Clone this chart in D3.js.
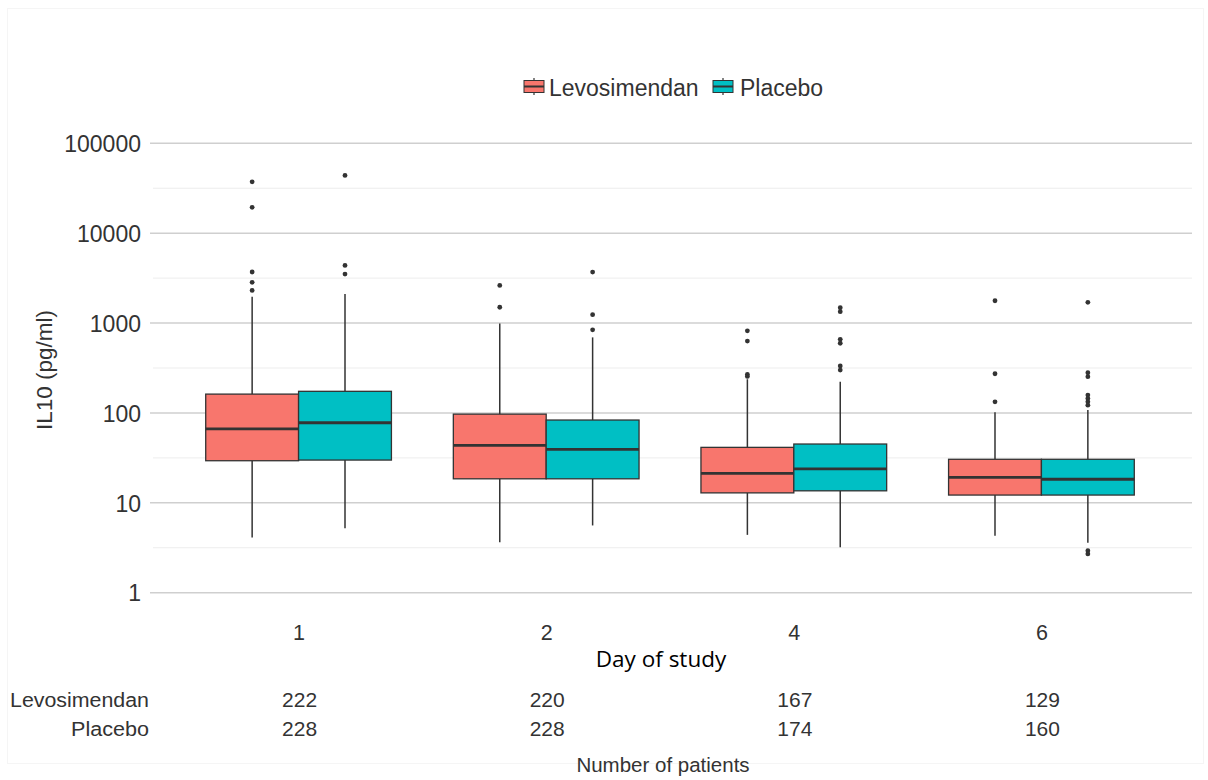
<!DOCTYPE html>
<html>
<head>
<meta charset="utf-8">
<script src="https://cdn.jsdelivr.net/npm/d3@7"></script>
<style>
  html, body { margin: 0; padding: 0; background: #ffffff; }
  svg { display: block; }
</style>
</head>
<body>
<svg id="chart" width="1208" height="780"></svg>
<script>
// IL-10 concentrations by study day, levosimendan vs placebo (box-and-whisker summaries)
const days = ["1", "2", "4", "6"];
const groups = ["Levosimendan", "Placebo"];
const groupColors = ["#F8766D", "#00BFC4"];

// Levosimendan summaries per day (pg/ml)
const levoLow    = [4.1, 3.65, 4.4, 4.3];
const levoQ1     = [29.4, 18.5, 12.9, 12.2];
const levoMedian = [66.5, 43.5, 21.3, 19.2];
const levoQ3     = [162, 97, 41.4, 30.5];
const levoHigh   = [1960, 990, 237, 102];
const levoOutliers = [
  [37300, 19400, 3700, 2840, 2310],
  [2620, 1500],
  [820, 630, 268, 255],
  [1770, 273, 133]
];

// Placebo summaries per day (pg/ml)
const placLow    = [5.2, 5.6, 3.2, 3.6];
const placQ1     = [29.9, 18.5, 13.6, 12.2];
const placMedian = [77.8, 39.4, 23.9, 18.3];
const placQ3     = [174, 83.4, 45.1, 30.5];
const placHigh   = [2100, 693, 222, 108];
const placOutliers = [
  [43900, 4380, 3510],
  [3690, 1240, 840],
  [1480, 1340, 660, 596, 333, 300],
  [1700, 280, 253, 158, 145, 133, 122, 2.93, 2.7]
];

// Number of patients per day
const levoCounts = [222, 220, 167, 129];
const placCounts = [228, 228, 174, 160];

const yTicks = [1, 10, 100, 1000, 10000, 100000];
const yMinor = [3.1623, 31.623, 316.23, 3162.3, 31623];

// assemble per-box records
const stats = [];
groups.forEach((g, gi) => {
  const src = gi === 0
    ? [levoLow, levoQ1, levoMedian, levoQ3, levoHigh, levoOutliers]
    : [placLow, placQ1, placMedian, placQ3, placHigh, placOutliers];
  days.forEach((d, di) => {
    stats.push({
      day: d, group: g, gi: gi,
      low: src[0][di], q1: src[1][di], median: src[2][di],
      q3: src[3][di], high: src[4][di], outliers: src[5][di]
    });
  });
});

const svg = d3.select("#chart");
const FONT = "'Liberation Sans', Arial, Helvetica, sans-serif";
const ink = "#333333";

const panel = { left: 150, right: 1192 };
const x = d3.scalePoint().domain(days).range([panel.left, 1190]).padding(0.6);
const y = d3.scaleLog().domain([1, 100000]).range([592.7, 143.3]);
const boxW = x.step() * 0.375;
const dodge = d3.scaleBand().domain(groups).range([-boxW, boxW]);

// faint outer frame
svg.append("rect")
  .attr("x", 7.5).attr("y", 8.5).attr("width", 1196).attr("height", 755)
  .attr("fill", "none").attr("stroke", "#f5f5f5").attr("stroke-width", 1);

// grid lines
const grid = svg.append("g");
grid.selectAll("line.minor").data(yMinor).join("line")
  .attr("class", "minor")
  .attr("x1", panel.left + 3).attr("x2", panel.right)
  .attr("y1", d => y(d)).attr("y2", d => y(d))
  .attr("stroke", "#ededed").attr("stroke-width", 1);
grid.selectAll("line.major").data(yTicks).join("line")
  .attr("class", "major")
  .attr("x1", panel.left).attr("x2", panel.right)
  .attr("y1", d => y(d)).attr("y2", d => y(d))
  .attr("stroke", "#cfcfcf").attr("stroke-width", 1.6);

// y axis labels
const yAxis = d3.axisLeft(y).tickValues(yTicks).tickFormat(d3.format("d")).tickSize(0).tickPadding(0);
const yg = svg.append("g").attr("transform", `translate(${panel.left - 9},0)`).call(yAxis);
yg.select(".domain").remove();
yg.selectAll("text")
  .attr("font-family", FONT).attr("font-size", 23).attr("fill", ink)
  .attr("dy", "0.36em");

// y axis title
svg.append("text")
  .attr("transform", "translate(52,370) rotate(-90)")
  .attr("text-anchor", "middle")
  .attr("font-family", FONT).attr("font-size", 22.5).attr("fill", ink)
  .text("IL10 (pg/ml)");

// x axis labels
const xAxis = d3.axisBottom(x).tickSize(0).tickPadding(0);
const xg = svg.append("g").attr("transform", "translate(0,640)").call(xAxis);
xg.select(".domain").remove();
xg.selectAll("text")
  .attr("font-family", FONT).attr("font-size", 21.5).attr("fill", ink)
  .attr("dy", 0).attr("y", 0);

// boxes
const boxes = svg.append("g").selectAll("g.box").data(stats).join("g")
  .attr("class", "box")
  .attr("transform", d => `translate(${x(d.day) + dodge(d.group)},0)`);
const bw = dodge.bandwidth();

boxes.append("line")
  .attr("x1", bw / 2).attr("x2", bw / 2)
  .attr("y1", d => y(d.high)).attr("y2", d => y(d.q3))
  .attr("stroke", ink).attr("stroke-width", 1.5);
boxes.append("line")
  .attr("x1", bw / 2).attr("x2", bw / 2)
  .attr("y1", d => y(d.q1)).attr("y2", d => y(d.low))
  .attr("stroke", ink).attr("stroke-width", 1.5);
boxes.append("rect")
  .attr("x", 0).attr("width", bw)
  .attr("y", d => y(d.q3)).attr("height", d => y(d.q1) - y(d.q3))
  .attr("fill", d => groupColors[d.gi])
  .attr("stroke", ink).attr("stroke-width", 1.3);
boxes.append("line")
  .attr("x1", 0).attr("x2", bw)
  .attr("y1", d => y(d.median)).attr("y2", d => y(d.median))
  .attr("stroke", ink).attr("stroke-width", 2.8);
boxes.selectAll("circle").data(d => d.outliers).join("circle")
  .attr("cx", bw / 2).attr("cy", v => y(v)).attr("r", 2.4)
  .attr("fill", ink);

// legend
const legend = svg.append("g");
const legendItems = [
  { name: groups[0], color: groupColors[0], kx: 523, tx: 549 },
  { name: groups[1], color: groupColors[1], kx: 712, tx: 740 }
];
legendItems.forEach(it => {
  const k = legend.append("g").attr("transform", `translate(${it.kx},78)`);
  k.append("line").attr("x1", 11).attr("x2", 11).attr("y1", 0).attr("y2", 17)
    .attr("stroke", ink).attr("stroke-width", 1.2);
  k.append("rect").attr("x", 1).attr("y", 2.5).attr("width", 20).attr("height", 12)
    .attr("fill", it.color).attr("stroke", ink).attr("stroke-width", 1);
  k.append("line").attr("x1", 1).attr("x2", 21).attr("y1", 8.5).attr("y2", 8.5)
    .attr("stroke", ink).attr("stroke-width", 2);
  legend.append("text")
    .attr("x", it.tx).attr("y", 96)
    .attr("font-family", FONT).attr("font-size", 23).attr("fill", ink)
    .text(it.name);
});

// x axis title
svg.append("text")
  .attr("x", 661).attr("y", 667)
  .attr("text-anchor", "middle")
  .attr("font-family", "'Open Sans', 'Noto Sans', sans-serif").attr("font-size", 22.5)
  .attr("fill", "#000000")
  .text("Day of study");

// patient count table
const table = svg.append("g");
const rowsY = [707, 736];
const rowCounts = [levoCounts, placCounts];
groups.forEach((g, gi) => {
  table.append("text")
    .attr("x", 149).attr("y", rowsY[gi])
    .attr("text-anchor", "end")
    .attr("font-family", FONT).attr("font-size", 20).attr("fill", ink)
    .attr("textLength", gi === 0 ? 139 : 78).attr("lengthAdjust", "spacingAndGlyphs")
    .text(g);
  table.selectAll(null).data(rowCounts[gi]).join("text")
    .attr("x", (c, i) => x(days[i]) + 1).attr("y", rowsY[gi])
    .attr("text-anchor", "middle")
    .attr("font-family", FONT).attr("font-size", 21).attr("fill", ink)
    .text(c => c);
});
table.append("text")
  .attr("x", 663).attr("y", 772)
  .attr("text-anchor", "middle")
  .attr("font-family", FONT).attr("font-size", 20.5).attr("fill", ink)
  .text("Number of patients");
</script>
</body>
</html>
